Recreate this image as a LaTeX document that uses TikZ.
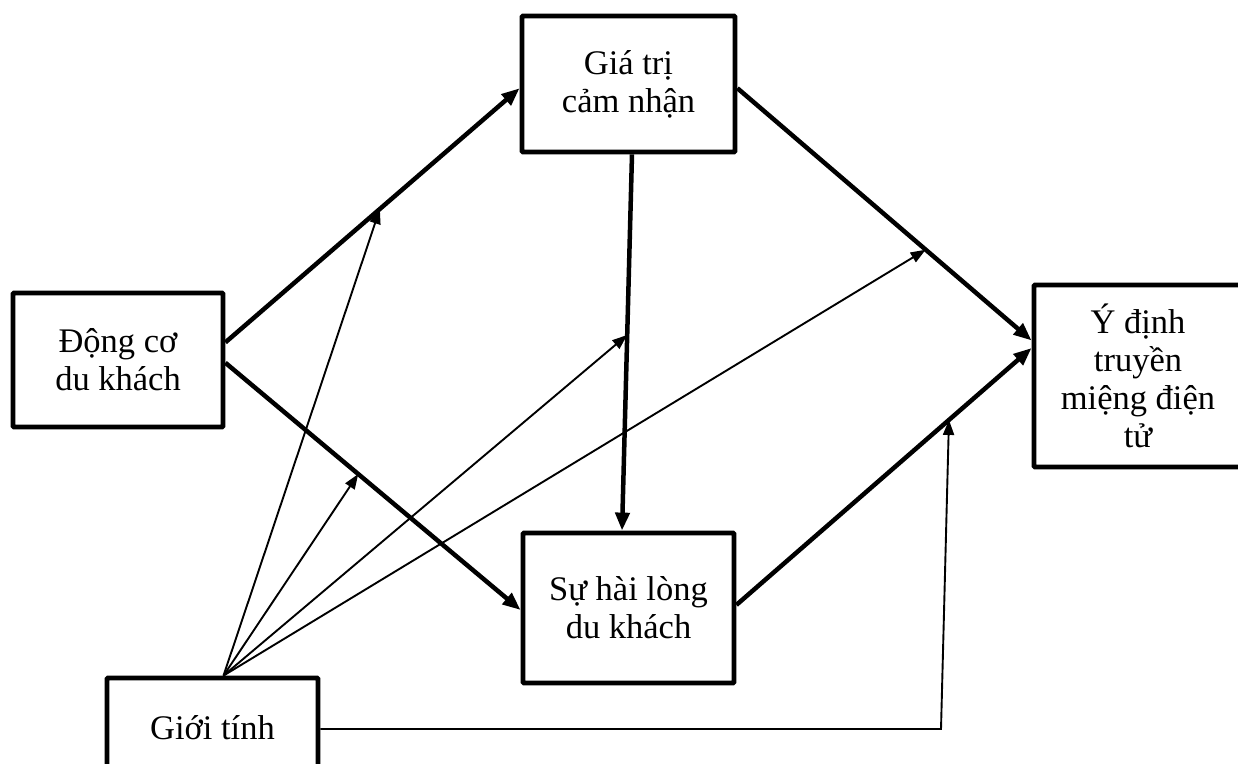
\documentclass[tikz,border=0pt]{standalone}
\usepackage{fontspec}
\setmainfont{Liberation Serif}
\usetikzlibrary{arrows.meta,calc}
\begin{document}
\begin{tikzpicture}[x=1pt,y=-1pt,
  box/.style={draw,line width=4.8pt,rectangle,rounded corners=1pt,inner sep=0pt,
    align=center,font=\fontsize{34.5}{38}\selectfont},
  mainlink/.style={line width=4.5pt,-{Triangle[length=18pt,width=14pt]}},
  modlink/.style={line width=1.9pt,-{Triangle[length=15pt,width=11pt]}}]
\useasboundingbox (0,0) rectangle (1238,763);

% constructs
\node[box,minimum width=210pt,minimum height=134pt] (dong) at (118,360) {Động cơ\\du khách};
\node[box,minimum width=213pt,minimum height=136pt] (gia)  at (628.5,84) {Giá trị\\cảm nhận};
\node[box,minimum width=211pt,minimum height=150pt] (su)   at (628.5,608) {Sự hài lòng\\du khách};
\node[box,minimum width=208pt,minimum height=182pt] (yd)   at (1138,376) {Ý định\\truyền\\miệng điện\\tử};
\node[box,minimum width=211pt,minimum height=102pt] (gioi) at (212.5,729) {\raisebox{3pt}{Giới tính}};

% attachment points on the box borders
\coordinate (d1) at ($(dong.north east)!0.373!(dong.south east)$);
\coordinate (d2) at ($(dong.north east)!0.52!(dong.south east)$);
\coordinate (g1) at ($(gia.north west)!0.53!(gia.south west)$);
\coordinate (gs) at ($(gia.south west)!0.516!(gia.south east)$);
\coordinate (ge) at ($(gia.north east)!0.53!(gia.south east)$);
\coordinate (s1) at ($(su.north west)!0.513!(su.south west)$);
\coordinate (sn) at ($(su.north west)!0.47!(su.north east)$);
\coordinate (se) at ($(su.north east)!0.48!(su.south east)$);
\coordinate (y1) at ($(yd.north west)!0.31!(yd.south west)$);
\coordinate (y2) at ($(yd.north west)!0.35!(yd.south west)$);
\coordinate (g0) at ([xshift=11pt]gioi.north);

% direct paths
\draw[mainlink] (d1) -- (g1);
\draw[mainlink] (d2) -- (s1);
\draw[mainlink] (gs) -- (sn);
\draw[mainlink] (ge) -- (y1);
\draw[mainlink] (se) -- (y2);

% moderation targets on the direct paths
\coordinate (m1) at ($(d1)!0.525!(g1)$);
\coordinate (m2) at ($(d2)!0.45!(s1)$);
\coordinate (m3) at ($(gs)!0.48!(sn)$);
\coordinate (m4) at ($(ge)!0.64!(y1)$);
\coordinate (m5) at ($(se)!0.72!(y2)$);
\coordinate (bend) at (941,729);

% moderating effects of gender
\draw[modlink] (g0) -- (m1);
\draw[modlink] (g0) -- (m2);
\draw[modlink] (g0) -- (m3);
\draw[modlink] (g0) -- (m4);
\draw[modlink] (gioi.east) -- (bend) -- (m5);
\end{tikzpicture}
\end{document}
